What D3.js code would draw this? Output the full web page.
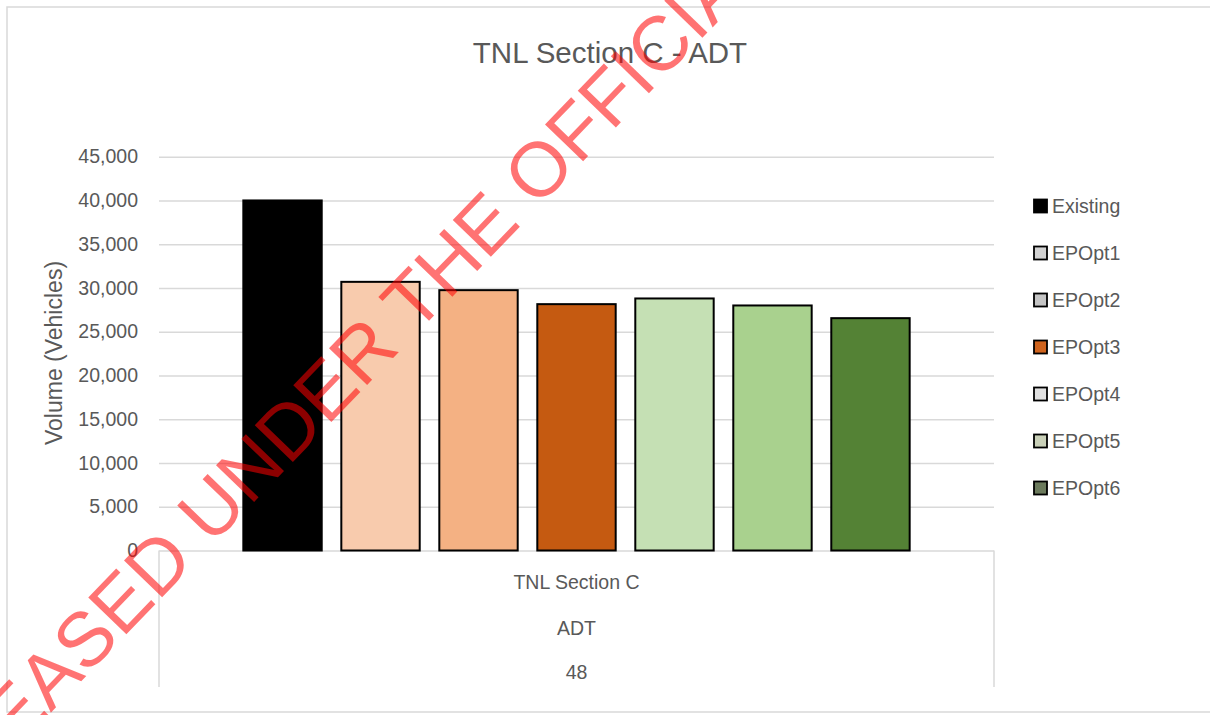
<!DOCTYPE html>
<html><head><meta charset="utf-8">
<script src="https://cdn.jsdelivr.net/npm/d3@7"></script>
<style>
html,body{margin:0;padding:0;background:#fff;}
svg{display:block;}
text{font-family:"Liberation Sans",Arial,sans-serif;}
</style>
</head><body>
<svg id="chart" width="1210" height="715"></svg>
<script>
// ---- data ----
const chartTitle = "TNL Section C - ADT";
const yAxisTitle = "Volume (Vehicles)";
const categories = ["TNL Section C"];
const categorySubLabels = ["ADT", "48"];
const seriesNames = ["Existing", "EPOpt1", "EPOpt2", "EPOpt3", "EPOpt4", "EPOpt5", "EPOpt6"];
const seriesValues = [40000, 30700, 29750, 28150, 28800, 28000, 26550];
const seriesColors = ["#000000", "#F8CBAD", "#F4B183", "#C55A11", "#C5E0B4", "#A9D18E", "#548235"];
const legendSwatchColors = ["#000000", "#d2d2d2", "#c4c4c4", "#d0641e", "#e0e0e0", "#c9d0b8", "#6b7a5c"];
const yTicks = [0, 5000, 10000, 15000, 20000, 25000, 30000, 35000, 40000, 45000];
const watermarkText = "RELEASED UNDER THE OFFICIAL INFORMATION ACT";

// ---- layout ----
const svg = d3.select("#chart");
const textColor = "#595959";
const plot = {left: 159, right: 994, top: 156.7, bottom: 550.5};

// outer frame
svg.append("rect").attr("x", 7).attr("y", 7).attr("width", 1210).attr("height", 705)
  .attr("fill", "#fff").attr("stroke", "#d9d9d9").attr("stroke-width", 1.5);

// scales
const y = d3.scaleLinear().domain([0, 45000]).range([plot.bottom, plot.top]);
const x0 = d3.scaleBand().domain(categories).range([plot.left, plot.right]).padding(0.098);
const x1 = d3.scaleBand().domain(seriesNames).range([0, x0.bandwidth()]).paddingInner(0.2).paddingOuter(0.1);

// gridlines + y axis
const yAxis = svg.append("g").attr("transform", `translate(${plot.left},0)`)
  .call(d3.axisLeft(y).tickValues(yTicks).tickFormat(d3.format(","))
    .tickSize(-(plot.right - plot.left)).tickPadding(21));
yAxis.select(".domain").remove();
yAxis.selectAll(".tick line").attr("stroke", "#d9d9d9").attr("stroke-width", 1.5);
yAxis.selectAll(".tick text").attr("fill", textColor).attr("font-size", 19.5)
  .style("font-family", '"Liberation Sans",Arial,sans-serif');

// category table (multi-level labels)
const tableBottom = 687;
svg.append("line").attr("x1", plot.left).attr("x2", plot.left).attr("y1", plot.bottom).attr("y2", tableBottom)
  .attr("stroke", "#d9d9d9").attr("stroke-width", 1.5);
svg.append("line").attr("x1", plot.right).attr("x2", plot.right).attr("y1", plot.bottom).attr("y2", tableBottom)
  .attr("stroke", "#d9d9d9").attr("stroke-width", 1.5);
const labelRows = [categories[0]].concat(categorySubLabels);
const labelBaselines = [589, 635, 679];
svg.selectAll("text.cat").data(labelRows).join("text").attr("class", "cat")
  .attr("x", x0(categories[0]) + x0.bandwidth() / 2)
  .attr("y", (d, i) => labelBaselines[i])
  .attr("text-anchor", "middle").attr("fill", textColor).attr("font-size", 19.5)
  .text(d => d);

// bars
const barData = seriesNames.map((s, i) => ({name: s, value: seriesValues[i], color: seriesColors[i]}));
svg.append("g").selectAll("rect").data(barData).join("rect")
  .attr("x", d => x0(categories[0]) + x1(d.name))
  .attr("y", d => y(d.value))
  .attr("width", x1.bandwidth())
  .attr("height", d => y(0) - y(d.value))
  .attr("fill", d => d.color)
  .attr("stroke", "#000").attr("stroke-width", 2);

// title
svg.append("text").attr("x", 610).attr("y", 63).attr("text-anchor", "middle")
  .attr("fill", textColor).attr("font-size", 29.5).text(chartTitle);

// y axis title
svg.append("text").attr("transform", "translate(62,353) rotate(-90)").attr("text-anchor", "middle")
  .attr("fill", textColor).attr("font-size", 23).text(yAxisTitle);

// legend
const legend = svg.append("g");
const legendRowY = d3.scalePoint().domain(seriesNames).range([206, 488]);
const lg = legend.selectAll("g").data(seriesNames).join("g")
  .attr("transform", d => `translate(1034,${legendRowY(d)})`);
lg.append("rect").attr("x", 0).attr("y", -6.5).attr("width", 13).attr("height", 13)
  .attr("fill", (d, i) => legendSwatchColors[i]).attr("stroke", "#000").attr("stroke-width", 1.8);
lg.append("text").attr("x", 18).attr("y", 7).attr("fill", textColor).attr("font-size", 19.5).text(d => d);

// watermark
const wm = svg.append("g").attr("transform", "translate(15,749.6) rotate(-46)");
const wmText = wm.append("text").attr("font-size", 77).attr("fill", "#ff0000").attr("fill-opacity", 0.55)
  .text(watermarkText);
const relWidth = wmText.node().getSubStringLength(0, 3);
wmText.attr("x", -relWidth);
</script>
</body></html>
